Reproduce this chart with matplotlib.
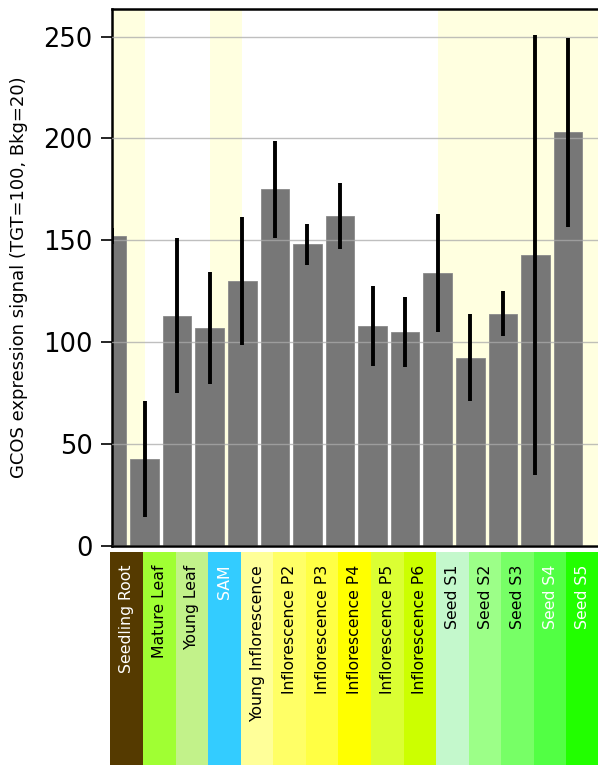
import matplotlib
matplotlib.use("Agg")
import matplotlib.pyplot as plt

# tissues, shown left to right
tissues = [
    "Seedling Root", "Mature Leaf", "Young Leaf", "SAM", "Young Inflorescence",
    "Inflorescence P2", "Inflorescence P3", "Inflorescence P4", "Inflorescence P5",
    "Inflorescence P6", "Seed S1", "Seed S2", "Seed S3", "Seed S4", "Seed S5",
]
signal = [152, 42.5, 113, 107, 130, 175, 148, 162, 108, 105, 134, 92.5, 114, 143, 203]
sd = [4, 28.5, 38, 27.5, 31.5, 24, 10, 16, 19.5, 17, 29, 21.5, 11, 108, 46.5]
box_colors = [
    "#553a00", "#a0ff33", "#c2f28a", "#33ccff", "#ffff99",
    "#ffff66", "#ffff44", "#ffff00", "#dbff33", "#ccff00",
    "#c4f8cc", "#9cff88", "#77ff66", "#52ff44", "#22ff00",
]
text_colors = ["white", "black", "black", "white", "black",
               "black", "black", "black", "black", "black",
               "black", "black", "black", "white", "white"]
highlighted = [0, 3, 10, 11, 12, 13, 14]

W, H = 598, 765
fig = plt.figure(figsize=(W / 100, H / 100), dpi=100)

unit = 32.57
ax = fig.add_axes([112 / W, (H - 546) / H, 15 * unit / W, (546 - 9) / H])
n = len(tissues)
xs = list(range(n))

for i in highlighted:
    ax.axvspan(i, i + 1, color="#ffffe0", zorder=0, lw=0)

ax.bar(xs, signal, width=0.88, color="#777777", edgecolor="#8a8a8a",
       linewidth=0.6, zorder=2)
ax.errorbar(xs, signal, yerr=sd, fmt="none", ecolor="black", elinewidth=2.8,
            capsize=0, zorder=4)

ymax = max(s + e for s, e in zip(signal, sd)) * 1.05
ax.set_ylim(0, ymax)
ax.set_xlim(0, n)
ax.set_yticks([0, 50, 100, 150, 200, 250])
ax.yaxis.grid(True, color="#aaaaaa", alpha=0.75, linewidth=1.0, zorder=3)
ax.set_axisbelow(False)
ax.set_xticks([])
ax.tick_params(axis="y", labelsize=18.5, length=8, width=1.2, direction="out", pad=6)
ax.set_ylabel("GCOS expression signal (TGT=100, Bkg=20)", fontsize=13, labelpad=11)
for s in ("left", "top", "bottom"):
    ax.spines[s].set_linewidth(1.8)
ax.spines["right"].set_visible(False)

# colored tissue label strip
lab = fig.add_axes([110.5 / W, 0, 15 * unit / W, (H - 552) / H])
lab.set_xlim(0, n)
lab.set_ylim(0, 1)
lab.axis("off")
for i, name in enumerate(tissues):
    lab.axvspan(i, i + 1, color=box_colors[i], lw=0)
    lab.text(i + 0.5, 0.94, name, rotation=90, ha="center", va="top",
             fontsize=11.3, color=text_colors[i])

fig.savefig("out.png", dpi=100)
